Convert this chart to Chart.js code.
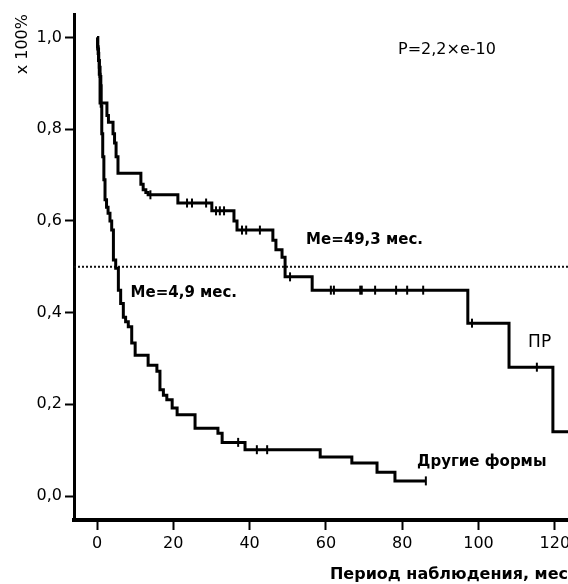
<!DOCTYPE html>
<html><head><meta charset="utf-8">
<script src="https://cdn.jsdelivr.net/npm/chart.js@4/dist/chart.umd.min.js"></script>
<style>html,body{margin:0;padding:0;background:#fff;overflow:hidden}canvas{display:block}</style>
</head><body>
<canvas id="c" width="568" height="584"></canvas>
<script>
// ---- data (months, survival fraction) ----
const prTimes = [0, 0.2, 0.4, 0.6, 0.8, 2.6, 3.0, 4.2, 4.6, 5.0, 5.5, 11.5, 12.1, 12.8, 13.4, 21.2, 30.1, 35.9, 36.7, 46.1, 46.9, 48.5, 49.3, 56.4, 97.2, 108.0, 119.5, 125];
const prSurv  = [1.0, 0.975, 0.95, 0.92, 0.857, 0.83, 0.815, 0.79, 0.77, 0.74, 0.704, 0.68, 0.668, 0.662, 0.657, 0.639, 0.622, 0.60, 0.58, 0.558, 0.537, 0.521, 0.478, 0.449, 0.377, 0.281, 0.14, 0.14];
const prCensorTimes = [14.0, 23.6, 24.9, 28.6, 31.2, 32.2, 33.3, 38.0, 39.1, 42.7, 50.6, 61.3, 62.1, 69.0, 69.4, 72.9, 78.4, 81.3, 85.5, 98.3, 115.3];
const prCensorSurv  = [0.657, 0.639, 0.639, 0.639, 0.622, 0.622, 0.622, 0.58, 0.58, 0.58, 0.478, 0.449, 0.449, 0.449, 0.449, 0.449, 0.449, 0.449, 0.449, 0.377, 0.281];

const otherTimes = [0, 0.15, 0.3, 0.45, 0.6, 0.8, 1.0, 1.1, 1.25, 1.5, 1.8, 2.1, 2.5, 2.9, 3.4, 3.85, 4.3, 4.9, 5.6, 6.2, 6.9, 7.5, 8.2, 9.1, 10.0, 13.4, 15.7, 16.5, 17.4, 18.3, 19.7, 21.0, 25.7, 31.7, 32.8, 38.8, 58.5, 66.8, 73.4, 78.1, 86.2];
const otherSurv  = [1.0, 0.98, 0.965, 0.95, 0.935, 0.915, 0.895, 0.85, 0.79, 0.74, 0.69, 0.646, 0.63, 0.617, 0.6, 0.58, 0.515, 0.497, 0.449, 0.42, 0.39, 0.38, 0.369, 0.334, 0.307, 0.285, 0.272, 0.232, 0.22, 0.21, 0.192, 0.177, 0.148, 0.137, 0.117, 0.101, 0.085, 0.072, 0.052, 0.033, 0.033];
const otherCensorTimes = [37.0, 41.9, 44.6, 86.2];
const otherCensorSurv  = [0.117, 0.101, 0.101, 0.033];

const medianLevel = 0.5;
const xTicks = [0, 20, 40, 60, 80, 100, 120];
const xTickLabels = ['0', '20', '40', '60', '80', '100', '120'];
const yTicks = [0, 0.2, 0.4, 0.6, 0.8, 1.0];
const yTickLabels = ['0,0', '0,2', '0,4', '0,6', '0,8', '1,0'];

// ---- axis ranges ----
const X_MIN = -6.03, X_MAX = 123.46, Y_MIN = -0.0523, Y_MAX = 1.0513;

const toPts = (xs, ys) => xs.map((t, i) => ({x: t, y: ys[i]}));

const notesPlugin = {
  id: 'notes',
  afterDatasetsDraw(chart, args, opts) {
    const {ctx, scales: {x, y}} = chart;
    ctx.save();
    ctx.fillStyle = '#000';
    ctx.textBaseline = 'middle';
    ctx.textAlign = 'left';
    for (const n of opts.items) {
      ctx.font = n.font;
      ctx.fillText(n.text, x.getPixelForValue(n.t), y.getPixelForValue(n.v));
    }
    ctx.restore();
  }
};

Chart.defaults.font.family = '"DejaVu Sans", sans-serif';
Chart.defaults.font.size = 16;
Chart.defaults.color = '#000';

const stepLine = {
  type: 'line', stepped: 'before', borderColor: '#000', borderWidth: 3,
  pointRadius: 0, fill: false, borderJoinStyle: 'miter', borderCapStyle: 'butt', tension: 0
};
const censor = {
  type: 'scatter', showLine: false, pointStyle: 'line', rotation: 90,
  pointRadius: 4.5, borderColor: '#000', backgroundColor: '#000', pointBorderWidth: 2
};

new Chart(document.getElementById('c'), {
  data: {
    datasets: [
      Object.assign({label: 'ПР', data: toPts(prTimes, prSurv)}, stepLine),
      Object.assign({label: 'Другие формы', data: toPts(otherTimes, otherSurv)}, stepLine),
      Object.assign({label: 'ПР цензур.', data: toPts(prCensorTimes, prCensorSurv)}, censor),
      Object.assign({label: 'Другие формы цензур.', data: toPts(otherCensorTimes, otherCensorSurv)}, censor),
      {type: 'line', label: 'Медиана', data: [{x: X_MIN, y: medianLevel}, {x: X_MAX, y: medianLevel}],
       borderColor: '#111', borderWidth: 2, borderDash: [2, 2], pointRadius: 0, fill: false}
    ]
  },
  options: {
    responsive: false,
    animation: false,
    events: [],
    layout: {padding: {top: 14, left: 0, right: 0, bottom: 0}, autoPadding: false},
    plugins: {
      legend: {display: false},
      tooltip: {enabled: false},
      notes: {items: [
        {text: 'P=2,2×e-10', t: 78.9, v: 0.973, font: '16px "DejaVu Sans"'},
        {text: 'Me=49,3 мес.', t: 54.8, v: 0.558, font: 'bold 15px "DejaVu Sans"'},
        {text: 'Me=4,9 мес.', t: 8.8, v: 0.443, font: 'bold 15px "DejaVu Sans"'},
        {text: 'ПР', t: 113.0, v: 0.334, font: '17px "DejaVu Sans"'},
        {text: 'Другие формы', t: 83.9, v: 0.075, font: 'bold 15px "DejaVu Sans"'}
      ]}
    },
    scales: {
      x: {
        type: 'linear', position: 'bottom', min: X_MIN, max: X_MAX,
        afterBuildTicks: s => { s.ticks = xTicks.map(v => ({value: v})); },
        afterFit: s => { s.height = 64; s.paddingLeft = 0; s.paddingRight = 0; },
        ticks: {callback: (v, i) => xTickLabels[i], padding: 4, maxRotation: 0, autoSkip: false, font: {size: 16}},
        grid: {drawOnChartArea: false, drawTicks: true, tickLength: 10, tickWidth: 2, tickColor: '#000'},
        border: {display: true, color: '#000', width: 4},
        title: {display: true, text: 'Период наблюдения, мес', align: 'end',
                font: {size: 16, weight: 'bold'}, padding: {top: 0, bottom: 0}}
      },
      y: {
        type: 'linear', min: Y_MIN, max: Y_MAX,
        afterBuildTicks: s => { s.ticks = yTicks.map(v => ({value: v})); },
        afterFit: s => { s.width = 74; s.paddingTop = 0; s.paddingBottom = 0; },
        ticks: {callback: (v, i) => yTickLabels[i], padding: 3, autoSkip: false, font: {size: 16}},
        grid: {drawOnChartArea: false, drawTicks: true, tickLength: 9, tickWidth: 2, tickColor: '#000'},
        border: {display: true, color: '#000', width: 3},
        title: {display: true, text: 'x 100%', align: 'end', font: {size: 16}, padding: {top: 13, bottom: 0}}
      }
    }
  },
  plugins: [notesPlugin]
});
</script>
</body></html>
